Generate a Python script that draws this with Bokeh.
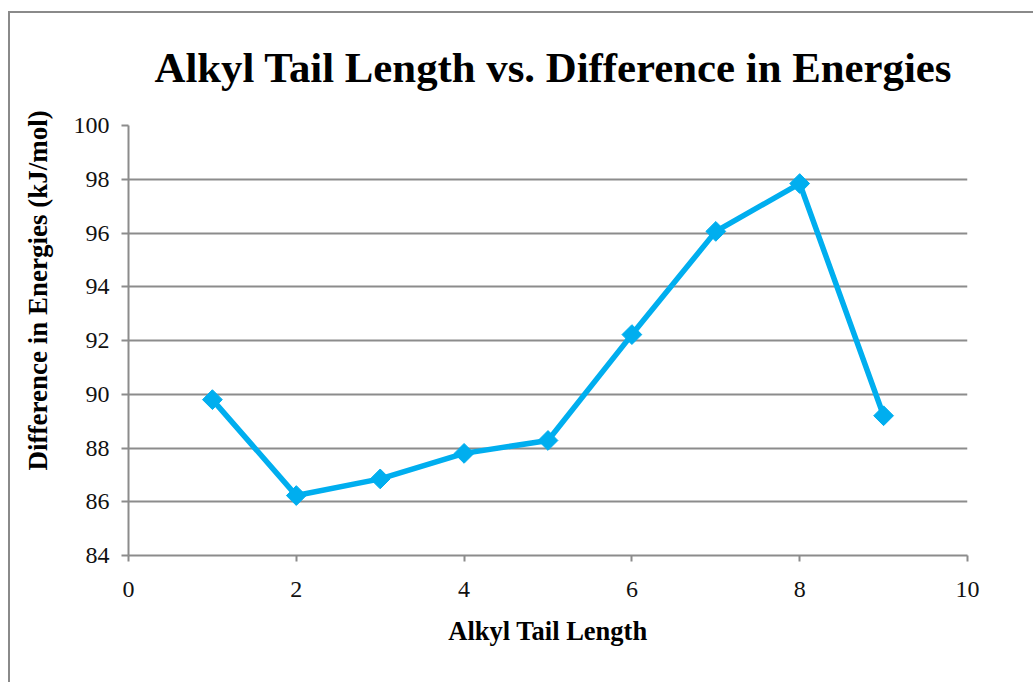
import math
from bokeh.plotting import figure
from bokeh.models import Range1d, FixedTicker, Title
from bokeh.embed import file_html
from bokeh.resources import INLINE

tail_length = [1, 2, 3, 4, 5, 6, 7, 8, 9]
energy_diff = [89.8, 86.23, 86.85, 87.8, 88.28, 92.22, 96.06, 97.84, 89.2]
x_ticks = [0, 2, 4, 6, 8, 10]
y_ticks = [84, 86, 88, 90, 92, 94, 96, 98, 100]

FONT = "Liberation Serif"
GRAY = "#8c8c8c"
BLUE = "#00aeef"
EDGE = "#8a8a8a"

p = figure(width=1036, height=685, output_backend="svg", toolbar_location=None,
           x_range=Range1d(0, 10), y_range=Range1d(84, 100),
           min_border_left=128, min_border_right=69, min_border_top=125, min_border_bottom=130)
p.styles = {
    "background": (f"linear-gradient({EDGE}, {EDGE}) 8px 11px / 2px 100% no-repeat, "
                   f"linear-gradient({EDGE}, {EDGE}) 8px 11px / 100% 2px no-repeat, white"),
}
p.title.text = "Alkyl Tail Length vs. Difference in Energies"
p.title.text_font = FONT
p.title.text_font_size = "42.8px"
p.title.text_font_style = "bold"
p.title.align = "left"
p.title.offset = 26
p.title.standoff = 70
p.title.text_color = "#000000"

p.outline_line_color = None
p.background_fill_color = "white"
p.border_fill_color = None

p.xgrid.visible = False
p.ygrid.grid_line_color = GRAY
p.ygrid.grid_line_width = 2
p.yaxis.ticker = FixedTicker(ticks=y_ticks)
p.xaxis.ticker = FixedTicker(ticks=x_ticks)
p.axis.axis_line_color = GRAY
p.axis.axis_line_width = 2
p.axis.major_tick_line_color = GRAY
p.axis.major_tick_line_width = 2
p.axis.major_tick_in = 0
p.axis.minor_tick_line_color = None
p.axis.major_label_text_font = FONT
p.axis.major_label_text_font_size = "24px"
p.axis.major_label_text_color = "#111111"
p.yaxis.major_tick_out = 7
p.xaxis.major_tick_out = 6
p.yaxis.major_label_standoff = 12
p.xaxis.major_label_standoff = 20

p.xaxis.axis_label = "Alkyl Tail Length"
p.xaxis.axis_label_text_font = FONT
p.xaxis.axis_label_text_font_size = "26.5px"
p.xaxis.axis_label_text_font_style = "bold"
p.xaxis.axis_label_text_color = "#000000"
p.xaxis.axis_label_standoff = 16

ytitle = Title(text="Difference in Energies (kJ/mol)", align="left", offset=85,
               text_font=FONT, text_font_size="27px", text_font_style="bold",
               text_color="#000000", standoff=35)
p.add_layout(ytitle, "left")

p.line(tail_length, energy_diff, line_color=BLUE, line_width=5.5)
p.scatter(tail_length, energy_diff, marker="square", angle=math.pi / 4, size=14,
          fill_color=BLUE, line_color=BLUE)

open("out.html", "w").write(file_html(p, INLINE))
